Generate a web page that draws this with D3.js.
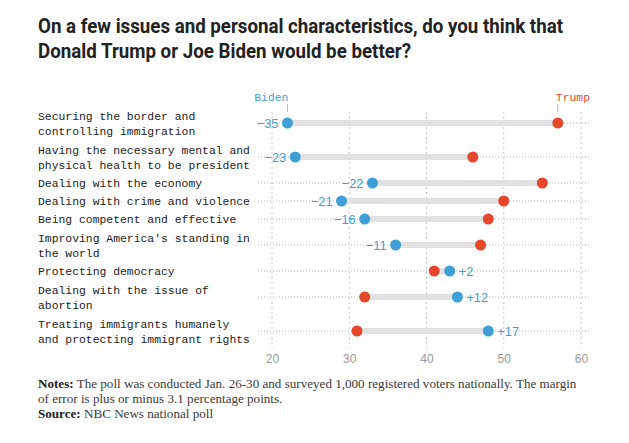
<!DOCTYPE html>
<html><head><meta charset="utf-8">
<script src="https://cdn.jsdelivr.net/npm/d3@7"></script>
<style>body{margin:0;background:#fff}</style>
</head><body><svg id="c" width="629" height="443"></svg>
<script>
const categories = [
  ["Securing the border and","controlling immigration"],
  ["Having the necessary mental and","physical health to be president"],
  ["Dealing with the economy"],
  ["Dealing with crime and violence"],
  ["Being competent and effective"],
  ["Improving America's standing in","the world"],
  ["Protecting democracy"],
  ["Dealing with the issue of","abortion"],
  ["Treating immigrants humanely","and protecting immigrant rights"]
];
const biden = [22, 23, 33, 29, 32, 36, 43, 44, 48];
const trump = [57, 46, 55, 50, 48, 47, 41, 32, 31];
const diffLabels = ["\u221235","\u221223","\u221222","\u221221","\u221216","\u221211","+2","+12","+17"];
const ticks = [20, 30, 40, 50, 60];

const svg = d3.select("#c");
const BLUE = "#3d9fd5", RED = "#e4472c";
const x = d3.scaleLinear().domain([20, 60]).range([272, 581]);

// row layout
const h1 = 18, h2 = 34, top0 = 106;
let acc = top0; const rowY = [];
categories.forEach(c => { const h = c.length > 1 ? h2 : h1; rowY.push(acc + h / 2); acc += h; });
const bottom = acc;

// title
const title = ["On a few issues and personal characteristics, do you think that","Donald Trump or Joe Biden would be better?"];
const tw = [525, 373];
title.forEach((t, i) => svg.append("text").attr("x", 38).attr("y", 33 + i * 25)
  .attr("font-family", "Roboto, 'Liberation Sans', sans-serif").attr("font-weight", 700)
  .attr("font-size", 20).attr("fill", "#222").attr("textLength", tw[i]).attr("lengthAdjust", "spacingAndGlyphs").text(t));

// vertical grid
svg.append("g").selectAll("line").data(ticks).join("line")
  .attr("x1", d => x(d)).attr("x2", d => x(d)).attr("y1", 112).attr("y2", bottom)
  .attr("stroke", "#c8c8c8").attr("stroke-dasharray", "2,3");

// axis labels
const ax = d3.axisBottom(x).tickValues(ticks).tickSize(0).tickPadding(0);
const axg = svg.append("g").attr("transform", `translate(0,${bottom + 4})`).call(ax);
axg.select(".domain").remove();
axg.selectAll("text").attr("font-family", "'Helvetica Neue', 'Liberation Sans', Arial, sans-serif")
  .attr("font-size", 12).attr("fill", "#9a9a9a").attr("dy", "0.9em");

// row dotted lines
svg.append("g").selectAll("line").data(rowY).join("line")
  .attr("x1", 258).attr("x2", 589).attr("y1", d => d).attr("y2", d => d)
  .attr("stroke", "#b5b5b5").attr("stroke-dasharray", "1,2");

// labels
const lg = svg.append("g");
categories.forEach((c, i) => {
  c.forEach((line, j) => {
    lg.append("text").attr("x", 38).attr("y", rowY[i] + (j - (c.length - 1) / 2) * 15 + 4)
      .attr("font-family", "'Liberation Mono', 'DejaVu Sans Mono', monospace").attr("font-size", 11.4)
      .attr("fill", "#222").text(line);
  });
});

// bars
svg.append("g").selectAll("line").data(biden).join("line")
  .attr("x1", (d, i) => x(Math.min(d, trump[i]))).attr("x2", (d, i) => x(Math.max(d, trump[i])))
  .attr("y1", (d, i) => rowY[i]).attr("y2", (d, i) => rowY[i])
  .attr("stroke", "#e1e1e1").attr("stroke-width", 6);

// dots
svg.append("g").selectAll("circle").data(trump).join("circle")
  .attr("cx", d => x(d)).attr("cy", (d, i) => rowY[i]).attr("r", 5.5).attr("fill", RED);
svg.append("g").selectAll("circle").data(biden).join("circle")
  .attr("cx", d => x(d)).attr("cy", (d, i) => rowY[i]).attr("r", 5.5).attr("fill", BLUE);

// diff labels
svg.append("g").selectAll("text").data(diffLabels).join("text")
  .attr("x", (d, i) => biden[i] < trump[i] ? x(biden[i]) - 9 : x(biden[i]) + 9)
  .attr("y", (d, i) => rowY[i] + 4.5)
  .attr("text-anchor", (d, i) => biden[i] < trump[i] ? "end" : "start")
  .attr("font-family", "'Helvetica Neue', 'Liberation Sans', Arial, sans-serif").attr("font-size", 12.8)
  .attr("fill", BLUE).text(d => d);

// legend labels
svg.append("text").attr("x", x(biden[0]) + 1).attr("y", 101).attr("text-anchor", "end").attr("fill", BLUE)
  .attr("font-family", "'Liberation Mono', 'DejaVu Sans Mono', monospace").attr("font-size", 11.4).text("Biden");
svg.append("text").attr("x", 590).attr("y", 101).attr("text-anchor", "end").attr("fill", RED)
  .attr("font-family", "'Liberation Mono', 'DejaVu Sans Mono', monospace").attr("font-size", 11.4).text("Trump");
[biden[0], trump[0]].forEach(v => svg.append("line").attr("x1", x(v)).attr("x2", x(v))
  .attr("y1", 104).attr("y2", 112).attr("stroke", "#c9b3bd").attr("stroke-width", 1));

// notes
const nf = "'Liberation Serif', 'DejaVu Serif', Georgia, serif";
const n1 = svg.append("text").attr("x", 38).attr("y", 388).attr("font-family", nf).attr("font-size", 13.1).attr("fill", "#3a3a3a");
n1.append("tspan").attr("font-weight", 700).attr("fill", "#222").text("Notes:");
n1.append("tspan").text(" The poll was conducted Jan. 26-30 and surveyed 1,000 registered voters nationally. The margin");
svg.append("text").attr("x", 38).attr("y", 403).attr("font-family", nf).attr("font-size", 13.1).attr("fill", "#3a3a3a")
  .text("of error is plus or minus 3.1 percentage points.");
const n3 = svg.append("text").attr("x", 38).attr("y", 418).attr("font-family", nf).attr("font-size", 13.1).attr("fill", "#3a3a3a");
n3.append("tspan").attr("font-weight", 700).attr("fill", "#222").text("Source:");
n3.append("tspan").text(" NBC News national poll");
</script></body></html>
